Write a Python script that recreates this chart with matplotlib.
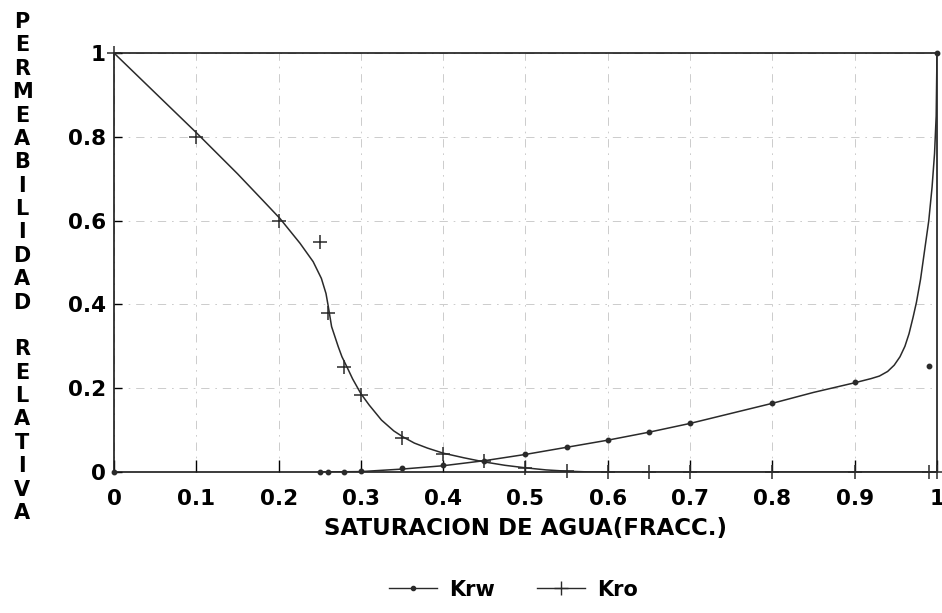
import matplotlib
matplotlib.use("Agg")
import matplotlib.pyplot as plt
from matplotlib.lines import Line2D

# ---- data ----
krw_x = [0.0, 0.25, 0.26, 0.28, 0.30, 0.35, 0.40, 0.45, 0.50, 0.55, 0.60, 0.65, 0.70, 0.80, 0.90, 0.99, 1.00]
krw_y = [0.0, 0.0, 0.0, 0.0, 0.002, 0.009, 0.017, 0.026, 0.043, 0.060, 0.076, 0.095, 0.116, 0.164, 0.215, 0.253, 1.0]

kro_x = [0.0, 0.10, 0.20, 0.25, 0.26, 0.28, 0.30, 0.35, 0.40, 0.45, 0.50, 0.55, 0.60, 0.65, 0.70, 0.80, 0.90, 0.99, 1.00]
kro_y = [1.0, 0.80, 0.60, 0.55, 0.38, 0.25, 0.183, 0.081, 0.043, 0.026, 0.010, 0.002, 0.0, 0.0, 0.0, 0.0, 0.0, 0.0, 0.0]

# fitted curves as drawn in the reference
kro_fit_x = [0.0, 0.05, 0.10, 0.15, 0.181, 0.2017, 0.226, 0.242, 0.252, 0.2576, 0.2604, 0.2644, 0.2725,
             0.277, 0.283, 0.29, 0.30, 0.31, 0.325, 0.34, 0.351, 0.365, 0.381, 0.40, 0.425, 0.45,
             0.475, 0.50, 0.525, 0.55, 0.58, 1.0]
kro_fit_y = [1.0, 0.905, 0.81, 0.712, 0.648, 0.605, 0.546, 0.502, 0.462, 0.426, 0.395, 0.347, 0.299,
             0.275, 0.251, 0.222, 0.187, 0.160, 0.124, 0.098, 0.084, 0.069, 0.057, 0.045, 0.034, 0.024,
             0.016, 0.010, 0.005, 0.002, 0.0, 0.0]

krw_fit_x = [0.25, 0.30, 0.35, 0.40, 0.45, 0.50, 0.55, 0.60, 0.65, 0.70, 0.75, 0.80, 0.85, 0.90, 0.91,
             0.92, 0.93, 0.94, 0.948, 0.955, 0.961, 0.966, 0.971, 0.975, 0.98, 0.985, 0.99, 0.994,
             0.997, 0.999, 1.0]
krw_fit_y = [0.0, 0.001, 0.007, 0.015, 0.027, 0.042, 0.059, 0.076, 0.095, 0.116, 0.140, 0.164, 0.190,
             0.213, 0.218, 0.223, 0.229, 0.240, 0.255, 0.275, 0.300, 0.330, 0.370, 0.405, 0.460, 0.530,
             0.600, 0.680, 0.760, 0.850, 1.0]

x_ticks = [0, 0.1, 0.2, 0.3, 0.4, 0.5, 0.6, 0.7, 0.8, 0.9, 1.0]
x_tick_labels = ["0", "0.1", "0.2", "0.3", "0.4", "0.5", "0.6", "0.7", "0.8", "0.9", "1"]
y_ticks = [0, 0.2, 0.4, 0.6, 0.8, 1.0]
y_tick_labels = ["0", "0.2", "0.4", "0.6", "0.8", "1"]

xlabel = "SATURACION DE AGUA(FRACC.)"
ylabel = "PERMEABILIDAD RELATIVA"

# ---- figure ----
plt.rcParams['font.family'] = ['DejaVu Sans']
W, H = 942, 613
fig = plt.figure(figsize=(W / 100, H / 100), dpi=100)
ax = fig.add_axes([0.121, 0.23, 0.8737, 0.6835])

lc = '#2a2a2a'
ax.plot(kro_fit_x, kro_fit_y, color=lc, lw=1.1, zorder=3)
ax.plot(krw_fit_x, krw_fit_y, color=lc, lw=1.1, zorder=3)
ax.plot(kro_x, kro_y, linestyle='none', marker='+', markersize=10, mew=1.1, color=lc, zorder=4, clip_on=False)
ax.plot(krw_x, krw_y, linestyle='none', marker='o', markersize=3.2, color=lc, zorder=4, clip_on=False)

ax.set_xlim(0, 1)
ax.set_ylim(0, 1)
ax.set_xticks(x_ticks)
ax.set_xticklabels(x_tick_labels)
ax.set_yticks(y_ticks)
ax.set_yticklabels(y_tick_labels)
ax.tick_params(direction='in', length=9, width=1.0, labelsize=15.5, pad=12, colors='black')
for lab in ax.get_xticklabels() + ax.get_yticklabels():
    lab.set_fontweight('bold')
ax.tick_params(axis='y', length=6, pad=6)

ax.grid(True, color='#c4c4c4', lw=0.6, linestyle=(0, (10, 7, 2, 7)))
for s in ax.spines.values():
    s.set_linewidth(1.2)
    s.set_color('#1a1a1a')

ax.set_xlabel(xlabel, fontsize=16.5, fontweight='bold', labelpad=6)

# stacked vertical label, one letter per line
step = (513 - 22) / (len(ylabel) - 1)
for i, ch in enumerate(ylabel):
    if ch != ' ':
        fig.text(22 / W, 1 - (22 + i * step) / H, ch, fontsize=15, fontweight='bold',
                 ha='center', va='center')

handles = [Line2D([], [], color=lc, lw=1.0, marker='o', markersize=3),
           Line2D([], [], color=lc, lw=1.0, marker='+', markersize=10, mew=1.0)]
fig.legend(handles, ["Krw", "Kro"], loc='center', bbox_to_anchor=(0.545, 0.038), ncol=2,
           frameon=False, prop={'size': 15, 'weight': 'bold'},
           handlelength=2.3, columnspacing=2.0, handletextpad=0.6)

fig.savefig("out.png", dpi=100)
